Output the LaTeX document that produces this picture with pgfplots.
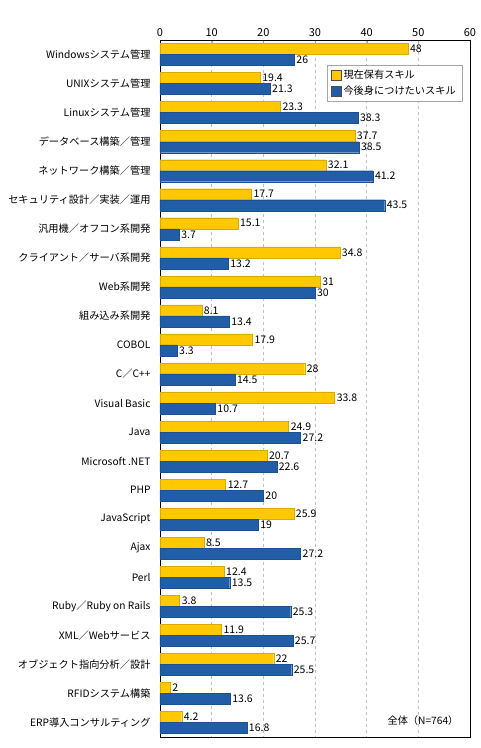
\documentclass[border=0pt]{standalone}
\usepackage{pgfplots}
\pgfplotsset{compat=1.18}
\usepackage{fontspec}
\setmainfont{Noto Sans CJK JP}
\definecolor{cyel}{RGB}{255,200,0}
\definecolor{cblu}{RGB}{34,94,168}
\begin{document}
\begin{tikzpicture}
\path[use as bounding box] (-160pt,-11pt) rectangle (320pt,737pt);
\begin{axis}[
  scale only axis, width=310pt, height=697pt,
  xmin=0, xmax=60, ymin=-0.5, ymax=23.5, y dir=reverse,
  xbar, bar width=0.38,
  xtick={0,10,...,60}, xticklabel pos=upper, xtick pos=upper,
  major tick length=4pt,
  x tick style={gray!70},
  xmajorgrids, grid style={dashed, gray!50},
  ytick={0,...,23},
  yticklabels={Windowsシステム管理, UNIXシステム管理, Linuxシステム管理, データベース構築／管理, ネットワーク構築／管理, セキュリティ設計／実装／運用, 汎用機／オフコン系開発, クライアント／サーバ系開発, Web系開発, 組み込み系開発, COBOL, C／C++, Visual Basic, Java, Microsoft .NET, PHP, JavaScript, Ajax, Perl, Ruby／Ruby on Rails, XML／Webサービス, オブジェクト指向分析／設計, RFIDシステム構築, ERP導入コンサルティング},
  ytick style={draw=none},
  yticklabel style={font=\fontsize{10.2}{12}\selectfont, xshift=-2pt},
  xticklabel style={font=\fontsize{11}{12}\selectfont},
  /pgf/number format/assume math mode=true,
  axis line style={black, line width=0.8pt},
  nodes near coords,
  nodes near coords style={font=\fontsize{10.5}{12}\selectfont, anchor=west, inner sep=2pt, black},
  legend style={at={(0.974,0.964)}, anchor=north east, draw=gray!70, fill=white,
    font=\fontsize{10.2}{12}\selectfont, inner xsep=4pt, inner ysep=3pt, row sep=2pt},
  legend cell align=left,
  legend image code/.code={\draw[#1, draw=gray!60!black] (0pt,-5pt) rectangle (10pt,5pt);},
]
\addplot[fill=cyel, draw=cyel!85!black, line width=0.3pt, bar shift=-0.19] coordinates {
(48,0) (19.4,1) (23.3,2) (37.7,3) (32.1,4) (17.7,5) (15.1,6) (34.8,7) (31,8) (8.1,9) (17.9,10) (28,11) (33.8,12) (24.9,13) (20.7,14) (12.7,15) (25.9,16) (8.5,17) (12.4,18) (3.8,19) (11.9,20) (22,21) (2,22) (4.2,23)};
\addplot[fill=cblu, draw=cblu!85!black, line width=0.3pt, bar shift=0.19] coordinates {
(26,0) (21.3,1) (38.3,2) (38.5,3) (41.2,4) (43.5,5) (3.7,6) (13.2,7) (30,8) (13.4,9) (3.3,10) (14.5,11) (10.7,12) (27.2,13) (22.6,14) (20,15) (19,16) (27.2,17) (13.5,18) (25.3,19) (25.7,20) (25.5,21) (13.6,22) (16.8,23)};
\legend{現在保有スキル, 今後身につけたいスキル}
\node[anchor=east, font=\fontsize{10.2}{12}\selectfont] at (rel axis cs:0.974,0.023) {全体（N=764）};
\node[anchor=east, font=\fontsize{10.2}{12}\selectfont] at ([xshift=6pt,yshift=30pt]rel axis cs:1,1) {複数回答（\%）};
\end{axis}
\end{tikzpicture}
\end{document}
